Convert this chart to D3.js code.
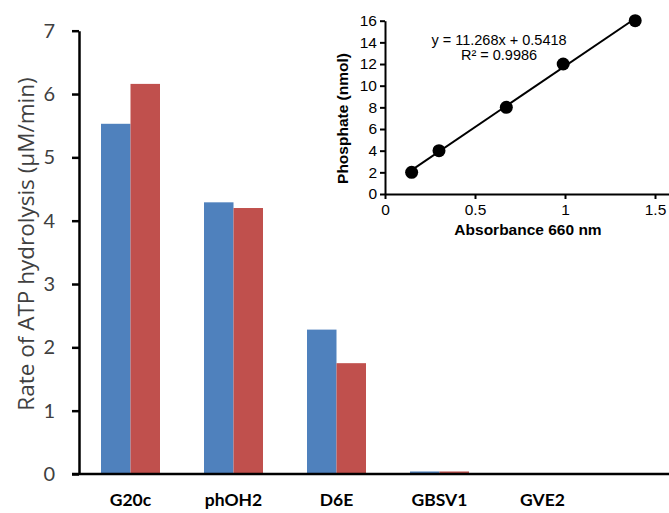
<!DOCTYPE html>
<html>
<head>
<meta charset="utf-8">
<script src="https://cdn.jsdelivr.net/npm/d3@7"></script>
<style>
  body { margin: 0; background: #fff; }
  svg { display: block; }
</style>
</head>
<body>
<div id="plot"></div>
<script>
// Main bar chart data
var categories = ["G20c", "phOH2", "D6E", "GBSV1", "GVE2"];
var seriesBlue = [5.53, 4.29, 2.28, 0.04, 0];
var seriesRed = [6.16, 4.20, 1.75, 0.04, 0];
var yTicks = [0, 1, 2, 3, 4, 5, 6, 7];

// Inset standard curve data
var absorbance = [0.148, 0.30, 0.674, 0.99, 1.39];
var phosphate = [2, 4, 8, 12, 16];
var fitSlope = 11.268;
var fitIntercept = 0.5418;
var insetXTicks = [0, 0.5, 1, 1.5];
var insetYTicks = [0, 2, 4, 6, 8, 10, 12, 14, 16];

var svgWidth = 669;
var svgHeight = 513;

var svg = d3.select("#plot")
  .append("svg")
  .attr("width", svgWidth)
  .attr("height", svgHeight);

// ---- main chart ----
var mainFont = "Lato, 'Open Sans', sans-serif";

var xBand = d3.scaleBand()
  .domain(categories)
  .range([79, 79 + 5 * 103])
  .paddingInner(0)
  .paddingOuter(0);

var yLinearScale = d3.scaleLinear()
  .domain([0, 7])
  .range([474, 30.7]);

var pairWidth = 59;

// bars
var barGroup = svg.append("g");
categories.forEach(function (c, i) {
  var cx = xBand(c) + xBand.bandwidth() / 2;
  barGroup.append("rect")
    .attr("x", cx - pairWidth / 2)
    .attr("y", yLinearScale(seriesBlue[i]))
    .attr("width", pairWidth / 2)
    .attr("height", yLinearScale(0) - yLinearScale(seriesBlue[i]))
    .attr("fill", "#4f81bd");
  barGroup.append("rect")
    .attr("x", cx)
    .attr("y", yLinearScale(seriesRed[i]))
    .attr("width", pairWidth / 2)
    .attr("height", yLinearScale(0) - yLinearScale(seriesRed[i]))
    .attr("fill", "#c0504d");
});

// left axis
var leftAxis = d3.axisLeft(yLinearScale)
  .tickValues(yTicks)
  .tickFormat(d3.format("d"))
  .tickSize(7)
  .tickPadding(17)
  .tickSizeOuter(0);

var leftG = svg.append("g")
  .attr("transform", "translate(79, 0)")
  .call(leftAxis);
leftG.select(".domain").attr("stroke", "#000").attr("stroke-width", 2.5);
leftG.selectAll(".tick line").attr("stroke", "#000").attr("stroke-width", 2.5);
leftG.selectAll(".tick text")
  .style("font-family", mainFont)
  .style("font-size", "20px")
  .attr("fill", "#404040");

// bottom axis line (extends to the right edge)
svg.append("line")
  .attr("x1", 72)
  .attr("x2", svgWidth)
  .attr("y1", yLinearScale(0))
  .attr("y2", yLinearScale(0))
  .attr("stroke", "#000")
  .attr("stroke-width", 2.5);

// category labels
svg.append("g").selectAll("text")
  .data(categories)
  .enter()
  .append("text")
  .attr("x", d => xBand(d) + xBand.bandwidth() / 2)
  .attr("y", 506)
  .attr("text-anchor", "middle")
  .style("font-family", mainFont)
  .style("font-weight", "bold")
  .style("font-size", "17.5px")
  .attr("fill", "#000")
  .text(d => d);

// y axis title
svg.append("text")
  .attr("transform", "translate(34, 244) rotate(-90)")
  .attr("text-anchor", "middle")
  .style("font-family", "'Open Sans', sans-serif")
  .style("font-size", "22.5px")
  .attr("fill", "#404040")
  .text("Rate of ATP hydrolysis (\u00b5M/min)");

// ---- inset chart ----
var insetFont = "'Liberation Sans', Arial, sans-serif";

var insetX = d3.scaleLinear()
  .domain([0, 1.6])
  .range([385, 385 + 270 * 1.6 / 1.5]);

var insetY = d3.scaleLinear()
  .domain([0, 16])
  .range([194, 20.7]);

var insetBottom = d3.axisBottom(insetX)
  .tickValues(insetXTicks)
  .tickFormat(d3.format("~g"))
  .tickSize(5)
  .tickPadding(5)
  .tickSizeOuter(0);

var insetLeft = d3.axisLeft(insetY)
  .tickValues(insetYTicks)
  .tickSize(5)
  .tickPadding(3)
  .tickSizeOuter(0);

var ibG = svg.append("g")
  .attr("transform", "translate(0, 194)")
  .call(insetBottom);
var ilG = svg.append("g")
  .attr("transform", "translate(385, 0)")
  .call(insetLeft);

[ibG, ilG].forEach(function (g) {
  g.select(".domain").attr("stroke", "#000").attr("stroke-width", 2);
  g.selectAll(".tick line").attr("stroke", "#000").attr("stroke-width", 2);
  g.selectAll(".tick text")
    .style("font-family", insetFont)
    .style("font-size", "15.5px")
    .attr("fill", "#000");
});

// trendline between the first and last point
var xMin = d3.min(absorbance);
var xMax = d3.max(absorbance);
svg.append("line")
  .attr("x1", insetX(xMin))
  .attr("y1", insetY(fitSlope * xMin + fitIntercept))
  .attr("x2", insetX(xMax))
  .attr("y2", insetY(fitSlope * xMax + fitIntercept))
  .attr("stroke", "#000")
  .attr("stroke-width", 2);

svg.append("g").selectAll("circle")
  .data(absorbance)
  .enter()
  .append("circle")
  .attr("cx", d => insetX(d))
  .attr("cy", (d, i) => insetY(phosphate[i]))
  .attr("r", 6.5)
  .attr("fill", "#000");

// equation text
svg.append("text")
  .attr("x", 499)
  .attr("y", 45)
  .attr("text-anchor", "middle")
  .style("font-family", insetFont)
  .style("font-size", "14.5px")
  .text("y = 11.268x + 0.5418");
svg.append("text")
  .attr("x", 499)
  .attr("y", 60)
  .attr("text-anchor", "middle")
  .style("font-family", insetFont)
  .style("font-size", "14.5px")
  .text("R\u00b2 = 0.9986");

// inset axis titles
svg.append("text")
  .attr("transform", "translate(348, 118.5) rotate(-90)")
  .attr("text-anchor", "middle")
  .style("font-family", insetFont)
  .style("font-weight", "bold")
  .style("font-size", "15.5px")
  .text("Phosphate (nmol)");

svg.append("text")
  .attr("x", 528)
  .attr("y", 235)
  .attr("text-anchor", "middle")
  .style("font-family", insetFont)
  .style("font-weight", "bold")
  .style("font-size", "15.5px")
  .text("Absorbance 660 nm");
</script>
</body>
</html>
